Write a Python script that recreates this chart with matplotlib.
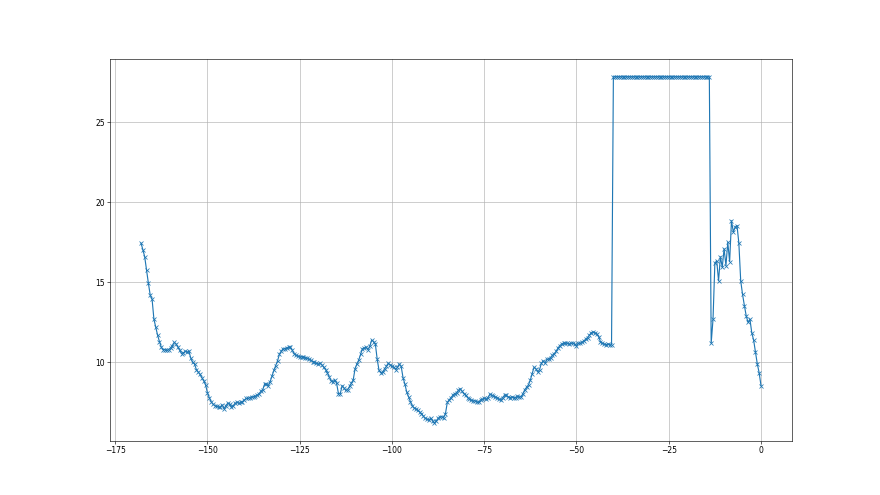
import numpy as np
import matplotlib
matplotlib.use("Agg")
import matplotlib.pyplot as plt

# x positions (regular 0.5 step from -168 to 0)
x_start = -168.0
x_step = 0.5

y_values = [
    17.45, 17.05, 16.6, 15.75, 14.95, 14.2, 13.95, 12.7, 12.2, 11.7,
    11.3, 10.95, 10.8, 10.8, 10.75, 10.8, 10.9, 11.05, 11.25, 11.15,
    10.95, 10.75, 10.55, 10.6, 10.7, 10.65, 10.7, 10.25, 10.0, 9.9,
    9.55, 9.4, 9.25, 9.05, 8.85, 8.6, 8.1, 7.8, 7.55, 7.4,
    7.3, 7.25, 7.2, 7.2, 7.35, 7.1, 7.3, 7.45, 7.4, 7.2,
    7.3, 7.45, 7.5, 7.45, 7.5, 7.55, 7.65, 7.75, 7.75, 7.8,
    7.85, 7.85, 7.9, 7.95, 8.05, 8.2, 8.3, 8.65, 8.65, 8.55,
    8.8, 9.15, 9.5, 9.8, 10.1, 10.5, 10.7, 10.85, 10.85, 10.9,
    10.95, 10.95, 10.75, 10.55, 10.45, 10.4, 10.35, 10.35, 10.35, 10.3,
    10.25, 10.2, 10.15, 10.05, 10.0, 9.95, 9.9, 9.95, 9.85, 9.7,
    9.55, 9.35, 9.1, 8.85, 8.8, 8.9, 8.7, 8.05, 8.05, 8.55,
    8.4, 8.25, 8.3, 8.5, 8.7, 8.9, 9.6, 9.9, 10.15, 10.5,
    10.85, 10.9, 10.95, 10.8, 11.0, 11.4, 11.3, 11.15, 10.2, 9.5,
    9.35, 9.4, 9.6, 9.75, 9.95, 9.85, 9.75, 9.7, 9.55, 9.7,
    9.9, 9.75, 9.05, 8.65, 8.15, 7.85, 7.55, 7.3, 7.15, 7.1,
    7.0, 6.9, 6.8, 6.65, 6.5, 6.45, 6.4, 6.5, 6.35, 6.2,
    6.35, 6.5, 6.6, 6.6, 6.55, 6.8, 7.5, 7.65, 7.8, 7.95,
    8.05, 8.1, 8.25, 8.35, 8.2, 8.05, 7.95, 7.8, 7.7, 7.65,
    7.6, 7.6, 7.55, 7.5, 7.65, 7.7, 7.75, 7.7, 7.8, 8.0,
    7.95, 7.9, 7.85, 7.8, 7.7, 7.65, 7.8, 7.95, 7.95, 7.85,
    7.8, 7.85, 7.8, 7.8, 7.9, 7.85, 7.85, 8.05, 8.3, 8.45,
    8.6, 8.9, 9.3, 9.7, 9.6, 9.4, 9.55, 9.95, 10.1, 9.95,
    10.2, 10.2, 10.3, 10.45, 10.55, 10.7, 10.9, 11.05, 11.15, 11.2,
    11.2, 11.2, 11.15, 11.2, 11.2, 11.15, 11.05, 11.2, 11.2, 11.25,
    11.35, 11.45, 11.55, 11.7, 11.85, 11.9, 11.85, 11.8, 11.6, 11.3,
    11.2, 11.15, 11.1, 11.15, 11.1, 11.1, 27.85, 27.85, 27.85, 27.85,
    27.85, 27.85, 27.85, 27.85, 27.85, 27.85, 27.85, 27.85, 27.85, 27.85,
    27.85, 27.85, 27.85, 27.85, 27.85, 27.85, 27.85, 27.85, 27.85, 27.85,
    27.85, 27.85, 27.85, 27.85, 27.85, 27.85, 27.85, 27.85, 27.85, 27.85,
    27.85, 27.85, 27.85, 27.85, 27.85, 27.85, 27.85, 27.85, 27.85, 27.85,
    27.85, 27.85, 27.85, 27.85, 27.85, 27.85, 27.85, 27.85, 27.85, 11.2,
    12.7, 16.2, 16.35, 15.1, 16.6, 15.95, 17.1, 16.05, 17.5, 16.3,
    18.85, 18.15, 18.45, 18.55, 17.45, 15.1, 14.25, 13.55, 12.9, 12.5,
    12.7, 11.85, 11.4, 10.65, 9.9, 9.35, 8.55,
]

x_values = x_start + x_step * np.arange(len(y_values))

fig = plt.figure(figsize=(16, 9), dpi=55)
ax = fig.add_subplot(111)
ax.plot(x_values, y_values, marker="x", color="#1f77b4", linewidth=1.5)
ax.grid(True)
fig.savefig("out.png", dpi=55)
